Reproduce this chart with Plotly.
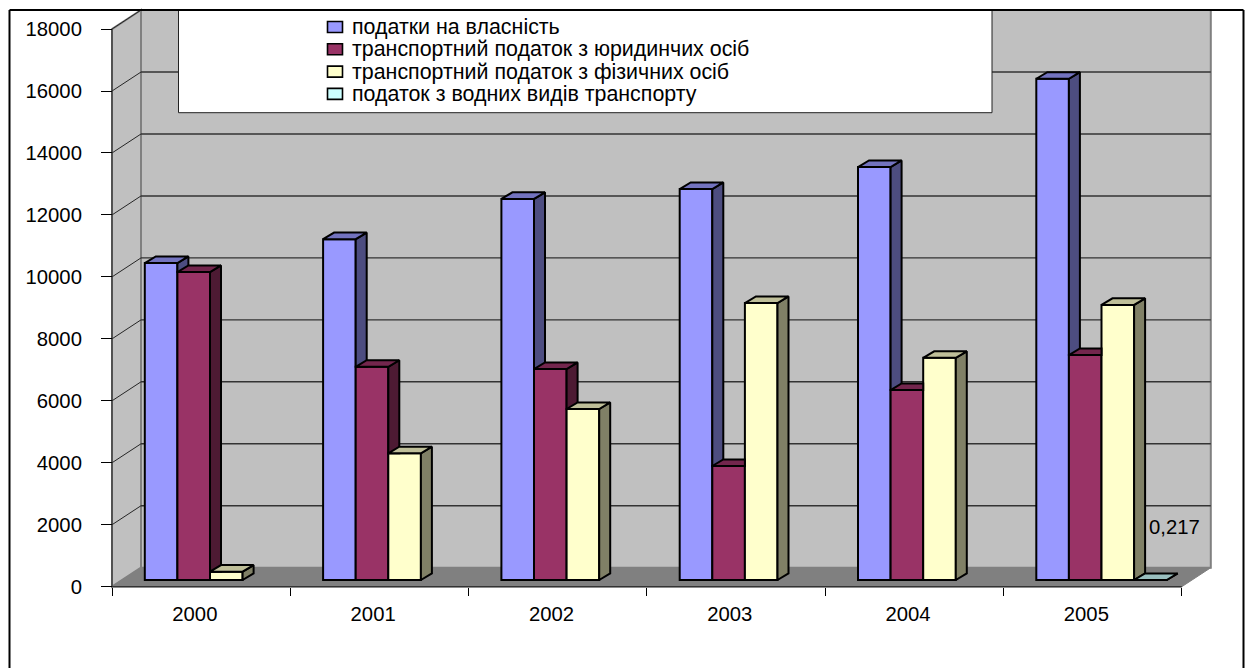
import plotly.graph_objects as go

# Source data: tax revenue by year
years = ["2000", "2001", "2002", "2003", "2004", "2005"]
property_tax = [10230, 11000, 12300, 12620, 13330, 16180]
transport_legal = [9940, 6880, 6810, 3680, 6130, 7260]
transport_personal = [270, 4090, 5520, 8940, 7170, 8880]
water_transport = [None, None, None, None, None, 0.217]
value_label = "0,217"
y_ticks = list(range(0, 18001, 2000))

series_names = [
    "податки на власність",
    "транспортний податок з юридинчих осіб",
    "транспортний податок з фізичних осіб",
    "податок з водних видів транспорту",
]
series_values = [property_tax, transport_legal, transport_personal, water_transport]
front_colors = ["#9999FF", "#993366", "#FFFFCC", "#CCFFFF"]
side_colors = ["#4D4D80", "#4D1A33", "#808066", "#668080"]
top_colors = ["#7373BF", "#73264D", "#BFBF99", "#99BFBF"]

# Page geometry in pixels
W, H = 1249, 668
AXIS_LEFT, AXIS_BOTTOM = 112.0, 586.7
CAT_PX = 178.3
PX_PER_UNIT = 0.03098
FONT = "Liberation Sans"
FS_AXIS = 20.3
FS_LEGEND = 21.4


def ux(px):
    return (px - AXIS_LEFT) / CAT_PX


def uy(py):
    return (AXIS_BOTTOM - py) / PX_PER_UNIT


# Wall depth and bar depth, in axis units
WALL_DX, WALL_DY = 29 / CAT_PX, 19 / PX_PER_UNIT
BAR_DX, BAR_DY = 11 / CAT_PX, 6.6 / PX_PER_UNIT
BAR_BASE = 6.7 / PX_PER_UNIT
BAR_W = 32.6 / CAT_PX
GROUP_OFFSET = 32.8 / CAT_PX
LABEL_SHIFT = 6.3 / CAT_PX
N = len(years)
Y_MAX = y_ticks[-1]

fig = go.Figure()

# Bar fronts
for k, values in enumerate(series_values):
    fig.add_trace(go.Bar(
        x=[i + 0.5 for i in range(N)],
        y=values,
        base=BAR_BASE,
        offset=GROUP_OFFSET + k * BAR_W - 0.5,
        width=BAR_W,
        name=series_names[k],
        marker=dict(color=front_colors[k], line=dict(color="black", width=2)),
        showlegend=False,
        hoverinfo="skip",
    ))

# Side and top faces, painted left to right; a taller neighbour hides what sits behind it
for k, values in enumerate(series_values):
    next_values = series_values[k + 1] if k + 1 < len(series_values) else [None] * N
    sx, sy, tx, ty = [], [], [], []
    for i, v in enumerate(values):
        if v is None:
            continue
        xl = i + GROUP_OFFSET + k * BAR_W
        xr = xl + BAR_W
        top = BAR_BASE + v
        neighbour = next_values[i]
        hidden_to = BAR_BASE + neighbour if neighbour is not None else BAR_BASE
        back = top + BAR_DY
        if hidden_to < back:
            low = max(hidden_to, BAR_BASE)
            sx += [xr, xr + BAR_DX, xr + BAR_DX, xr, xr, None]
            sy += [top, back, max(low, BAR_BASE + BAR_DY), low, top, None]
            tx += [xl, xr, xr + BAR_DX, xl + BAR_DX, xl, None]
            ty += [top, top, back, back, top, None]
        else:
            tx += [xl, xr, xr, xl + BAR_DX, xl, None]
            ty += [top, top, back, back, top, None]
    for xs, ys, color in ((sx, sy, side_colors[k]), (tx, ty, top_colors[k])):
        if xs:
            fig.add_trace(go.Scatter(
                x=xs, y=ys, mode="lines", fill="toself", fillcolor=color,
                line=dict(color="black", width=2), showlegend=False,
                hoverinfo="skip", cliponaxis=False,
            ))

# Walls and floor of the chart box
shapes = []


def poly(points, fill, line_color=None, width=1):
    path = "M" + "L".join(f"{x},{y}" for x, y in points) + "Z"
    shapes.append(dict(
        type="path", path=path, xref="x", yref="y", layer="below", fillcolor=fill,
        line=dict(color=line_color or fill, width=width),
    ))


def segment(x0, y0, x1, y1, color, width=1, layer="below"):
    shapes.append(dict(
        type="line", x0=x0, y0=y0, x1=x1, y1=y1, xref="x", yref="y", layer=layer,
        line=dict(color=color, width=width),
    ))


top_clip = uy(10)
poly([(WALL_DX, WALL_DY), (N + WALL_DX, WALL_DY), (N + WALL_DX, top_clip), (WALL_DX, top_clip)],
     "#C0C0C0", "#808080", 2)
poly([(0, 0), (WALL_DX, WALL_DY), (WALL_DX, top_clip), (0, Y_MAX)], "#C0C0C0", "#808080", 2)
poly([(0, 0), (N, 0), (N + WALL_DX, WALL_DY), (WALL_DX, WALL_DY)], "#808080", "#808080", 1)

# Gridlines run along the back wall and down the side wall
for t in y_ticks[1:]:
    segment(0, t, WALL_DX, t + WALL_DY, "#262626", 1)
    if t + WALL_DY < top_clip:
        segment(WALL_DX, t + WALL_DY, N + WALL_DX, t + WALL_DY, "#333333", 1.4)

segment(0, 0, N, 0, "#333333", 1.5)
segment(0, 0, 0, Y_MAX, "#333333", 1.2)

# Legend box with its entries
LEG_X0, LEG_X1, LEG_Y1 = 178.5, 992, 112.7
shapes.append(dict(
    type="rect", xref="x", yref="y", layer="below",
    x0=ux(LEG_X0), x1=ux(LEG_X1), y0=uy(LEG_Y1), y1=uy(10),
    fillcolor="white", line=dict(color="#222222", width=1),
))
annotations = []
ROW_Y = [27.0, 49.3, 71.6, 93.9]
for name, fill, row in zip(series_names, front_colors, ROW_Y):
    shapes.append(dict(
        type="rect", xref="x", yref="y", layer="below",
        x0=ux(327.5), x1=ux(342.5), y0=uy(row + 5.5), y1=uy(row - 5.5),
        fillcolor=fill, line=dict(color="black", width=1.6),
    ))
    annotations.append(dict(
        xref="x", yref="y", x=ux(349.5), y=uy(row), text=name, showarrow=False,
        xanchor="left", yanchor="middle", font=dict(family=FONT, size=FS_LEGEND, color="black"),
    ))

# Value label above the water transport bar
annotations.append(dict(
    x=5 + GROUP_OFFSET + 3 * BAR_W + BAR_W / 2,
    y=BAR_BASE + water_transport[-1], yref="y", xref="x",
    text=value_label, showarrow=False, yshift=53, xshift=24, xanchor="center", yanchor="middle",
    font=dict(family=FONT, size=FS_AXIS, color="black"),
))

# Outer frame, open at the page bottom
for x0, y0, x1, y1 in ((9.5, 10, 1243.5, 10), (9.5, 10, 9.5, 668), (1243.5, 10, 1243.5, 668)):
    shapes.append(dict(
        type="line", xref="paper", yref="paper", layer="above",
        x0=x0 / W, x1=x1 / W, y0=1 - y0 / H, y1=1 - y1 / H, line=dict(color="black", width=2),
    ))

fig.update_layout(
    width=W, height=H,
    margin=dict(l=0, r=0, t=0, b=0),
    paper_bgcolor="white", plot_bgcolor="white",
    barmode="overlay", showlegend=False,
    shapes=shapes, annotations=annotations,
    font=dict(family=FONT, size=FS_AXIS, color="black"),
    xaxis=dict(
        range=[ux(0), ux(W)], anchor="free", position=1 - AXIS_BOTTOM / H,
        showgrid=False, zeroline=False, showline=False,
        tickmode="array", tickvals=[i + 0.5 - LABEL_SHIFT for i in range(N)], ticktext=years,
        ticks="outside", ticklen=8, tickcolor="rgba(0,0,0,0)", ticklabelstandoff=1,
        minor=dict(tickmode="array", tickvals=list(range(N + 1)), ticks="outside",
                   ticklen=8, tickwidth=1, tickcolor="black", showgrid=False),
        tickfont=dict(family=FONT, size=FS_AXIS, color="black"),
    ),
    yaxis=dict(
        range=[uy(H), uy(0)], anchor="free", position=AXIS_LEFT / W,
        showgrid=False, zeroline=False, showline=False,
        tickmode="array", tickvals=y_ticks, ticktext=[str(t) for t in y_ticks],
        ticks="outside", ticklen=11, tickwidth=1, tickcolor="black", ticklabelstandoff=15,
        tickfont=dict(family=FONT, size=FS_AXIS, color="black"),
    ),
)

fig.write_html("out.html", config=dict(displayModeBar=False))
